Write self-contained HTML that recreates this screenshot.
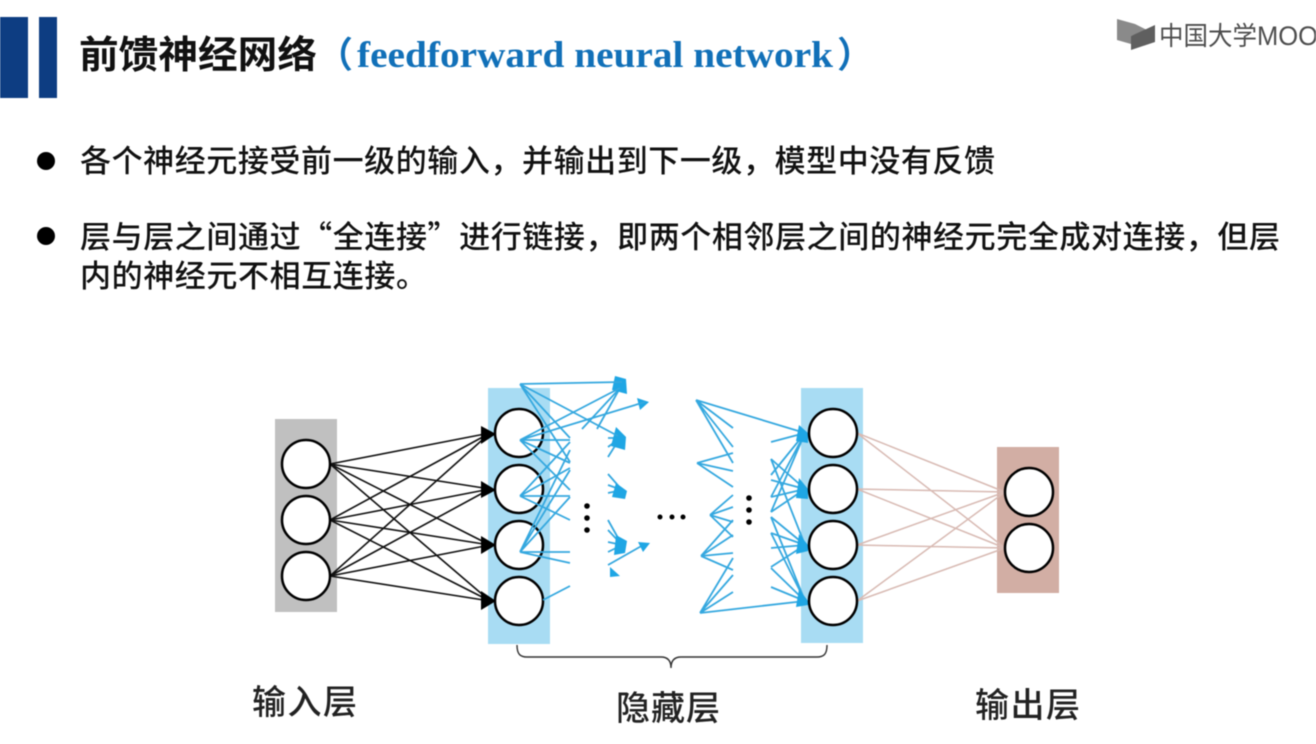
<!DOCTYPE html>
<html lang="zh-CN"><head><meta charset="utf-8"><style>
html,body{margin:0;padding:0;background:#fff;width:1316px;height:744px;overflow:hidden}
svg{display:block;filter:blur(.45px)}
.b{font-family:"Noto Sans CJK SC",sans-serif;font-size:31px;font-weight:500;fill:#111}
.l{font-family:"Noto Sans CJK SC",sans-serif;font-size:34px;font-weight:500;fill:#222}
</style></head><body>
<svg width="1316" height="744" viewBox="0 0 1316 744" xmlns="http://www.w3.org/2000/svg">
<rect x="0" y="17" width="28" height="81" fill="#0d3d82"/>
<rect x="39" y="17" width="18" height="81" fill="#0d3d82"/>
<text x="79" y="68" class="b" style="font-size:38px;font-weight:700;fill:#111" textLength="238" lengthAdjust="spacingAndGlyphs">前馈神经网络</text>
<text x="317" y="67" style="font-family:'Noto Sans CJK SC',sans-serif;font-size:36px;font-weight:700;fill:#1170b8">（</text>
<text x="357" y="67" style="font-family:'Liberation Serif',serif;font-size:37px;font-weight:700;fill:#1170b8" textLength="476" lengthAdjust="spacingAndGlyphs">feedforward neural network</text>
<text x="837" y="67" style="font-family:'Noto Sans CJK SC',sans-serif;font-size:36px;font-weight:700;fill:#1170b8">）</text>

<polygon points="1117,19 1135,24 1147,30 1131,36 1131,44 1117,40" fill="#8a8a8a"/>
<polygon points="1131,36 1155,25 1155,42 1131,50" fill="#5f5f5f"/>
<text x="1159" y="45" style="font-family:'Noto Sans CJK SC',sans-serif;font-size:26px;fill:#4d4d4d" textLength="98" lengthAdjust="spacingAndGlyphs">中国大学</text>
<text x="1257" y="45" style="font-family:'Liberation Sans',sans-serif;font-size:27px;fill:#4d4d4d" textLength="61" lengthAdjust="spacingAndGlyphs">MOO</text>

<circle cx="46" cy="161" r="9" fill="#000"/>
<circle cx="46" cy="236" r="9" fill="#000"/>
<text x="80" y="172" class="b" textLength="915">各个神经元接受前一级的输入，并输出到下一级，模型中没有反馈</text>
<text x="80" y="248" class="b" textLength="1200">层与层之间通过“全连接”进行链接，即两个相邻层之间的神经元完全成对连接，但层</text>
<text x="80" y="287" class="b" textLength="347">内的神经元不相互连接。</text>

<rect x="275" y="419" width="62" height="193" fill="#c0c0c0"/>
<rect x="488" y="388" width="62" height="256" fill="#a8dcf3"/>
<rect x="801" y="388" width="62" height="255" fill="#a8dcf3"/>
<rect x="997" y="447" width="62" height="146" fill="#d2aea4"/>

<g stroke="#111" stroke-width="1.6" fill="none">
<path d="M330 464L490 433M330 464L490 489M330 464L490 545M330 464L490 601M330 520L490 433M330 520L490 489M330 520L490 545M330 520L490 601M330 576L490 433M330 576L490 489M330 576L490 545M330 576L490 601"/>
</g>
<g fill="#000"><polygon points="496,434 481,426 481,444"/><polygon points="496,490 481,481 481,498"/><polygon points="496,545 481,536 481,554"/><polygon points="496,601 481,591 481,610"/></g>

<g stroke="#d8bab3" stroke-width="1.5" fill="none">
<path d="M857 433L1005 492M857 433L1005 548M857 489L1005 492M857 489L1005 548M857 545L1005 492M857 545L1005 548M857 601L1005 492M857 601L1005 548"/>
</g>

<g stroke="#35a8df" stroke-width="1.8" fill="none">
<path d="M582 429L620 388M597 429L620 388"/>
<path d="M608 438L620 438M608 447L620 438M608 457L620 438M608 474L622 490M608 485L622 490M608 493L622 490M608 520L622 545M608 530L622 545M608 542L622 545M608 552L622 545M608 565L645 544"/>
<path d="M696 400L805 433M696 400L733 428M696 400L733 447M696 400L733 463"/>
<path d="M697 463L733 453M697 463L733 471M697 463L733 487"/>
<path d="M710 515L733 495M710 515L733 507M710 515L733 522M710 515L733 537"/>
<path d="M701 556L733 520M701 556L733 535M701 556L733 553M701 556L733 570"/>
<path d="M700 613L733 558M700 613L733 575M700 613L733 592M700 613L805 601"/>
<path d="M771 442L805 433M771 475L805 433M771 497L805 433M771 512L805 433"/>
<path d="M771 459L805 489M771 480L805 489M771 497L805 489M771 512L805 489"/>
<path d="M771 459L805 545M771 517L805 545M771 533L805 545M771 548L805 545M771 567L805 545"/>
<path d="M771 517L805 601M771 533L805 601M771 568L805 601M771 587L805 601"/>
</g>
<g fill="#1fa6e4">
<polygon points="615,376 626,379 627,394 612,390"/>
<polygon points="649,402 637,398 640,410"/>
<polygon points="616,427 626,437 625,450 611,446"/>
<polygon points="616,483 627,491 625,499 612,497"/>
<polygon points="616,535 627,541 625,553 614,555"/>
<polygon points="650,543 638,542 643,552"/>
<polygon points="620,576 610,567 610,577"/>
<polygon points="808,433 808,443 796,441 799,425"/>
<polygon points="808,489 808,499 796,498 799,478"/>
<polygon points="808,545 808,551 796,554 799,534"/>
<polygon points="808,601 808,605 796,607 799,589"/>
</g>

<g fill="#fff" stroke="#000" stroke-width="2.5">
<circle cx="306" cy="464" r="24"/><circle cx="306" cy="520" r="24"/><circle cx="306" cy="576" r="24"/>
<circle cx="519" cy="433" r="24"/><circle cx="519" cy="489" r="24"/><circle cx="519" cy="545" r="24"/><circle cx="519" cy="601" r="24"/>
<circle cx="833" cy="433" r="24"/><circle cx="833" cy="489" r="24"/><circle cx="833" cy="545" r="24"/><circle cx="833" cy="601" r="24"/>
<circle cx="1029" cy="492" r="24"/><circle cx="1029" cy="548" r="24"/>
</g>
<g stroke="#35a8df" stroke-width="1.8" fill="none">
<path d="M520 384L622 382M520 384L570 438M520 384L570 462M520 384L618 436"/>
<path d="M520 440L620 388M520 440L645 402M520 440H570M520 440L570 463M520 440L570 490"/>
<path d="M520 496L570 442M520 496L570 468M520 496H570M520 496L570 520"/>
<path d="M520 552L570 450M520 552L570 470M520 552L570 497M520 552H570M520 552L570 563"/>
<path d="M543 600L570 586"/>
</g>

<g fill="#000">
<circle cx="587" cy="506" r="2.8"/><circle cx="587" cy="518" r="2.8"/><circle cx="587" cy="530" r="2.8"/>
<circle cx="660" cy="517" r="2.5"/><circle cx="672" cy="517" r="2.5"/><circle cx="683" cy="517" r="2.5"/>
<circle cx="749" cy="498" r="2.8"/><circle cx="749" cy="510" r="2.8"/><circle cx="749" cy="522" r="2.8"/>
</g>
<path d="M517 645C517 654 520 657 527 657H661C667 657 671 660 671 668C671 660 675 657 681 657H817C824 657 827 654 827 645" fill="none" stroke="#333" stroke-width="1.4"/>

<text x="252" y="714" class="l" textLength="105">输入层</text>
<text x="616" y="720" class="l" textLength="104">隐藏层</text>
<text x="975" y="717" class="l" textLength="105">输出层</text>
</svg>
</body></html>
